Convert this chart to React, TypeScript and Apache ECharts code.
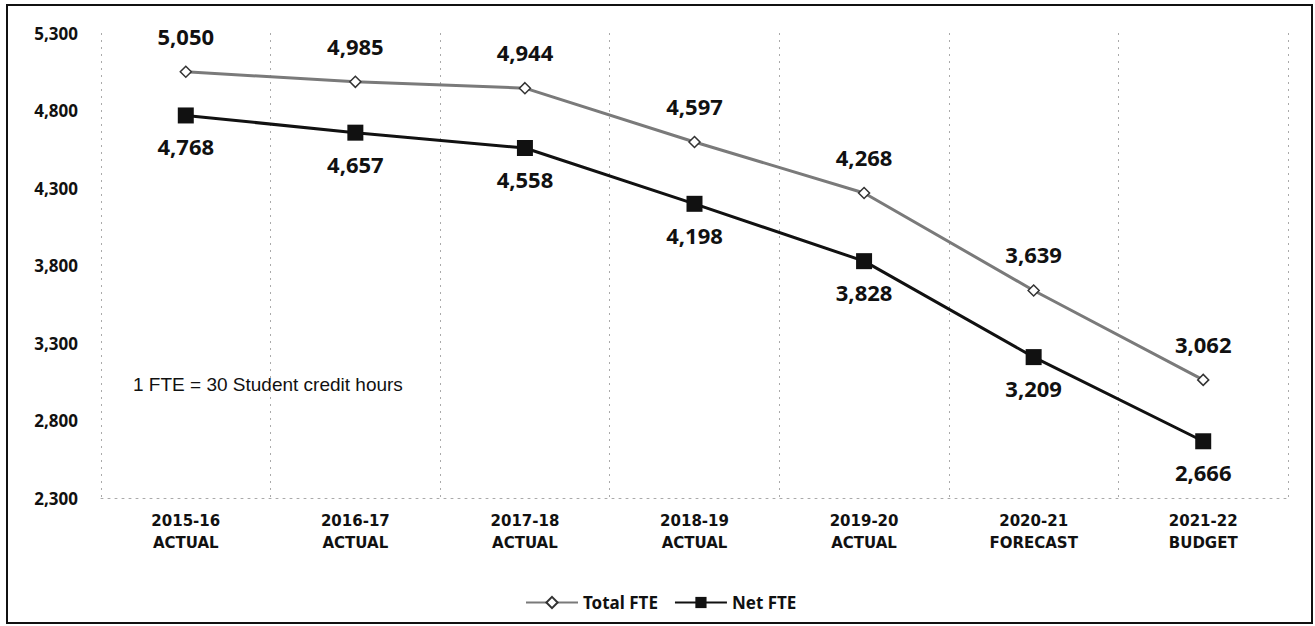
import React, { useEffect, useRef } from "react";
import * as echarts from "echarts";

const categories = [
  "2015-16\nACTUAL",
  "2016-17\nACTUAL",
  "2017-18\nACTUAL",
  "2018-19\nACTUAL",
  "2019-20\nACTUAL",
  "2020-21\nFORECAST",
  "2021-22\nBUDGET",
];
const totalFTE = [5050, 4985, 4944, 4597, 4268, 3639, 3062];
const netFTE = [4768, 4657, 4558, 4198, 3828, 3209, 2666];
const yTicks = [2300, 2800, 3300, 3800, 4300, 4800, 5300];
const note = "1 FTE = 30 Student credit hours";

const fmt = (v: number) => v.toLocaleString("en-US");

export default function App() {
  const ref = useRef<HTMLDivElement>(null);
  useEffect(() => {
    if (!ref.current) return;
    const chart = echarts.init(ref.current, null, { renderer: "svg" });
    chart.setOption({
      animation: false,
      backgroundColor: "#fff",
      grid: { left: 101, right: 27, top: 33, bottom: 128, containLabel: false },
      xAxis: {
        type: "category",
        data: categories,
        boundaryGap: true,
        axisLine: { show: true, lineStyle: { color: "#aaa", type: [2, 5], width: 1 } },
        axisTick: { show: false },
        splitLine: { show: true, lineStyle: { color: "#aaa", type: [2, 5], width: 1 } },
        axisLabel: {
          margin: 12,
          color: "#111",
          fontFamily: "DejaVu Sans",
          fontWeight: "bold",
          fontSize: 15,
          lineHeight: 22,
        },
      },
      yAxis: {
        type: "value",
        min: 2300,
        max: 5300,
        axisLine: { show: false },
        axisTick: { show: false },
        splitLine: { show: false },
        axisLabel: {
          customValues: yTicks,
          margin: 23,
          color: "#111",
          fontFamily: "Noto Sans",
          fontWeight: "bold",
          fontSize: 17,
          formatter: (v: number) => fmt(v),
        },
      },
      legend: {
        left: 520,
        top: 589,
        itemWidth: 52,
        itemHeight: 14,
        itemGap: 16,
        textStyle: { color: "#111", fontFamily: "Noto Sans", fontWeight: "bold", fontSize: 17 },
        data: ["Total FTE", "Net FTE"],
      },
      series: [
        {
          name: "Total FTE",
          type: "line",
          data: totalFTE,
          symbol: "diamond",
          symbolSize: 11,
          lineStyle: { color: "#7a7a7a", width: 3 },
          itemStyle: { color: "#ffffff", borderColor: "#333", borderWidth: 1.5 },
          label: {
            show: true,
            position: "top",
            distance: 19,
            color: "#111",
            fontFamily: "Noto Sans",
            fontWeight: "bold",
            fontSize: 22,
            formatter: (p: any) => fmt(p.value),
          },
          z: 3,
        },
        {
          name: "Net FTE",
          type: "line",
          data: netFTE,
          symbol: "rect",
          symbolSize: 16,
          lineStyle: { color: "#111", width: 3 },
          itemStyle: { color: "#111" },
          label: {
            show: true,
            position: "bottom",
            distance: 12,
            color: "#111",
            fontFamily: "Noto Sans",
            fontWeight: "bold",
            fontSize: 22,
            formatter: (p: any) => fmt(p.value),
          },
          z: 4,
        },
      ],
      graphic: [
        {
          type: "rect",
          shape: { x: 7, y: 5, width: 1305, height: 618 },
          style: { fill: "none", stroke: "#111", lineWidth: 2 },
          silent: true,
        },
        {
          type: "text",
          left: 133,
          top: 375,
          style: {
            text: note,
            fill: "#111",
            font: "19px 'Liberation Sans', Arial, sans-serif",
          },
        },
      ],
    });
    return () => chart.dispose();
  }, []);
  return (
    <div
      ref={ref}
      style={{ position: "absolute", left: 0, top: 0, width: 1315, height: 626 }}
    />
  );
}
